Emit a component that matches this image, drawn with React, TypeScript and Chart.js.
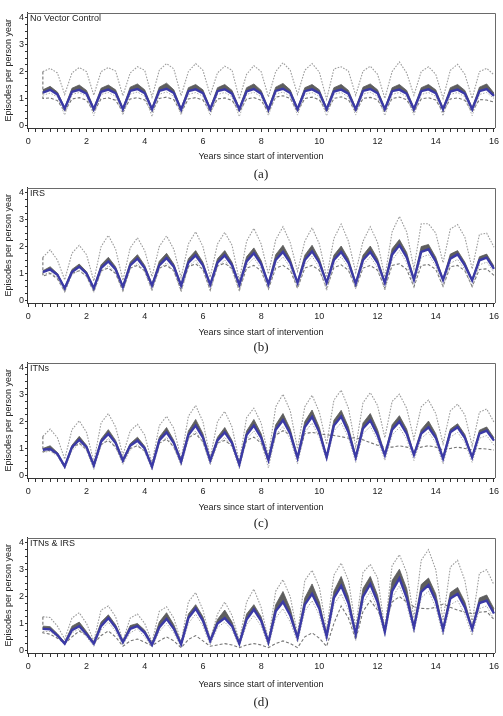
import React, { useEffect, useRef } from 'react';
import { Chart, registerables } from 'chart.js';
Chart.register(...registerables);

// Years since start of intervention (quarterly points)
const years = [0.5,0.75,1,1.25,1.5,1.75,2,2.25,2.5,2.75,3,3.25,3.5,3.75,4,4.25,4.5,4.75,5,5.25,5.5,5.75,6,6.25,6.5,6.75,7,7.25,7.5,7.75,8,8.25,8.5,8.75,9,9.25,9.5,9.75,10,10.25,10.5,10.75,11,11.25,11.5,11.75,12,12.25,12.5,12.75,13,13.25,13.5,13.75,14,14.25,14.5,14.75,15,15.25,15.5,15.75,16];
const xTickLabels = [0, 2, 4, 6, 8, 10, 12, 14, 16];
const yTickLabels = [0, 1, 2, 3, 4];
const minorStep = 0.25;

// ---- (a) No Vector Control ----
const aMedian = [1.22,1.32,1.15,0.62, 1.25,1.32,1.18,0.60, 1.25,1.33,1.20,0.60, 1.28,1.35,1.20,0.60, 1.28,1.36,1.20,0.58, 1.27,1.34,1.20,0.60, 1.27,1.34,1.18,0.60, 1.26,1.35,1.18,0.58, 1.28,1.36,1.20,0.60, 1.27,1.34,1.20,0.60, 1.26,1.33,1.18,0.60, 1.28,1.35,1.20,0.60, 1.27,1.33,1.18,0.60, 1.27,1.34,1.20,0.60, 1.26,1.33,1.18,0.60, 1.27,1.35,1.10];
const aBandHigh = [1.32,1.45,1.24,0.66, 1.38,1.50,1.30,0.65, 1.38,1.50,1.32,0.65, 1.42,1.54,1.32,0.65, 1.42,1.57,1.32,0.63, 1.40,1.52,1.32,0.65, 1.40,1.52,1.30,0.65, 1.40,1.54,1.30,0.63, 1.42,1.56,1.32,0.65, 1.40,1.52,1.32,0.65, 1.40,1.52,1.30,0.65, 1.42,1.54,1.32,0.65, 1.40,1.52,1.30,0.65, 1.40,1.52,1.32,0.65, 1.40,1.52,1.30,0.65, 1.42,1.54,1.20];
const aUpper = [2.00,2.12,1.95,1.15, 1.95,2.15,2.00,1.12, 2.00,2.15,2.02,1.10, 1.95,2.18,2.05,1.05, 2.05,2.30,2.10,1.10, 2.00,2.30,2.05,1.12, 1.95,2.20,2.05,0.98, 1.90,2.22,2.00,1.06, 2.00,2.33,2.05,1.15, 2.05,2.30,1.98,0.97, 2.10,2.18,2.02,1.12, 2.02,2.20,1.90,1.00, 2.00,2.36,1.95,1.12, 2.00,2.18,1.90,1.00, 2.05,2.27,1.90,1.00, 2.00,2.12,1.88];
const aLowerDashed = [1.00,1.02,0.92,0.52, 0.98,1.03,0.94,0.50, 0.98,1.02,0.93,0.50, 0.98,1.03,0.94,0.50, 1.00,1.05,0.95,0.48, 0.98,1.03,0.94,0.50, 0.98,1.02,0.93,0.50, 0.98,1.03,0.93,0.48, 1.05,1.10,1.00,0.50, 1.00,1.05,0.95,0.50, 1.00,1.06,0.95,0.50, 1.00,1.04,0.95,0.50, 1.00,1.05,0.95,0.50, 0.98,1.03,0.94,0.50, 0.98,1.02,0.93,0.50, 0.96,0.94,0.87];
const aDashTop = 2.0;
const aLowerDotted = [1.12,1.20,1.06,0.38, 1.15,1.22,1.08,0.36, 1.15,1.22,1.08,0.38, 1.16,1.24,1.08,0.32, 1.16,1.24,1.08,0.38, 1.15,1.22,1.08,0.37, 1.15,1.22,1.06,0.32, 1.15,1.23,1.06,0.36, 1.16,1.24,1.08,0.38, 1.15,1.22,1.08,0.35, 1.15,1.22,1.06,0.38, 1.16,1.23,1.08,0.36, 1.15,1.22,1.06,0.38, 1.15,1.22,1.08,0.35, 1.15,1.22,1.06,0.36, 1.15,1.22,1.00];

// ---- (b) IRS ----
const bMedian = [1.05,1.15,0.95,0.45, 1.05,1.25,1.00,0.45, 1.20,1.45,1.15,0.50, 1.30,1.55,1.20,0.55, 1.30,1.57,1.25,0.55, 1.40,1.67,1.30,0.58, 1.40,1.67,1.30,0.58, 1.45,1.75,1.35,0.60, 1.50,1.80,1.40,0.65, 1.50,1.82,1.40,0.65, 1.50,1.80,1.40,0.62, 1.50,1.80,1.40,0.65, 1.70,2.05,1.60,0.77, 1.80,1.90,1.45,0.76, 1.55,1.71,1.30,0.74, 1.49,1.59,1.17];
const bBandHigh = [1.10,1.25,1.00,0.48, 1.15,1.35,1.07,0.48, 1.32,1.60,1.25,0.54, 1.42,1.70,1.30,0.60, 1.45,1.75,1.35,0.60, 1.55,1.85,1.42,0.62, 1.55,1.85,1.42,0.62, 1.62,1.95,1.48,0.65, 1.70,2.05,1.55,0.70, 1.68,2.05,1.55,0.70, 1.68,2.02,1.55,0.67, 1.68,2.02,1.55,0.70, 1.92,2.26,1.78,0.82, 2.00,2.08,1.60,0.80, 1.72,1.85,1.42,0.78, 1.62,1.72,1.27];
const bUpper = [1.60,1.88,1.50,0.76, 1.75,2.05,1.70,0.72, 2.00,2.42,1.90,0.74, 1.95,2.33,1.85,0.88, 2.00,2.40,1.90,0.84, 2.10,2.55,2.00,0.86, 2.10,2.53,2.05,0.74, 2.20,2.68,2.10,0.98, 2.25,2.74,2.15,1.08, 2.20,2.70,2.10,0.86, 2.30,2.84,2.20,1.04, 2.20,2.74,2.15,0.86, 2.55,3.12,2.55,1.17, 2.85,2.85,2.50,1.40, 2.65,2.82,2.35,1.17, 2.45,2.50,1.98];
const bLowerDashed = [0.90,1.00,0.80,0.33, 1.00,1.10,0.90,0.32, 1.10,1.20,1.00,0.35, 1.20,1.30,1.10,0.40, 1.20,1.30,1.10,0.38, 1.25,1.36,1.15,0.38, 1.28,1.38,1.18,0.38, 1.20,1.30,1.10,0.42, 1.20,1.30,1.12,0.45, 1.20,1.30,1.12,0.45, 1.22,1.32,1.12,0.45, 1.20,1.30,1.12,0.45, 1.30,1.36,1.15,0.50, 1.30,1.33,1.15,0.52, 1.25,1.30,1.10,0.52, 1.15,1.17,0.93];
const bDashTop = 1.6;
const bLowerDotted = [0.95,1.05,0.85,0.30, 0.95,1.12,0.88,0.30, 1.05,1.30,1.00,0.34, 1.15,1.38,1.05,0.36, 1.15,1.40,1.08,0.30, 1.25,1.50,1.12,0.36, 1.25,1.50,1.12,0.33, 1.30,1.58,1.18,0.42, 1.32,1.62,1.22,0.45, 1.32,1.64,1.22,0.36, 1.32,1.62,1.22,0.42, 1.32,1.62,1.22,0.36, 1.50,1.85,1.40,0.50, 1.60,1.70,1.28,0.50, 1.38,1.52,1.15,0.48, 1.32,1.42,1.05];

// ---- (c) ITNs ----
const cMedian = [0.95,0.98,0.80,0.33, 1.05,1.32,1.05,0.37, 1.25,1.54,1.20,0.55, 1.10,1.29,1.00,0.32, 1.30,1.60,1.20,0.51, 1.50,1.85,1.40,0.55, 1.30,1.60,1.20,0.40, 1.50,1.85,1.40,0.57, 1.70,2.05,1.55,0.65, 1.80,2.18,1.60,0.67, 1.85,2.19,1.60,0.67, 1.75,2.04,1.50,0.75, 1.70,2.00,1.55,0.76, 1.55,1.79,1.40,0.63, 1.60,1.79,1.40,0.67, 1.55,1.66,1.29];
const cBandHigh = [1.00,1.10,0.85,0.36, 1.12,1.45,1.12,0.40, 1.35,1.70,1.30,0.60, 1.18,1.42,1.08,0.35, 1.42,1.78,1.30,0.55, 1.65,2.08,1.55,0.60, 1.42,1.78,1.30,0.44, 1.65,2.08,1.55,0.62, 1.88,2.30,1.72,0.70, 2.00,2.43,1.78,0.72, 2.05,2.42,1.80,0.72, 1.95,2.30,1.70,0.80, 1.88,2.22,1.72,0.80, 1.70,2.02,1.55,0.68, 1.72,1.92,1.52,0.70, 1.68,1.80,1.40];
const cUpper = [1.45,1.72,1.40,0.60, 1.70,2.03,1.60,0.50, 1.95,2.30,1.80,0.75, 1.65,1.90,1.50,0.45, 1.85,2.20,1.75,0.60, 2.20,2.60,2.00,0.65, 2.00,2.38,1.80,0.50, 2.15,2.50,1.95,0.70, 2.55,3.02,2.40,0.98, 2.55,2.98,2.35,1.15, 2.80,3.17,2.50,1.05, 2.70,3.08,2.60,1.40, 2.75,3.02,2.50,1.35, 2.55,2.80,2.30,1.17, 2.40,2.65,2.25,1.10, 2.35,2.47,1.98];
const cLowerDashed = [0.88,0.93,0.75,0.30, 1.00,1.20,0.95,0.33, 1.15,1.30,1.05,0.50, 1.00,1.10,0.90,0.30, 1.20,1.35,1.05,0.45, 1.40,1.55,1.25,0.50, 1.20,1.30,1.10,0.38, 1.30,1.42,1.20,0.50, 1.50,1.66,1.50,0.60, 1.55,1.60,1.55,1.50, 1.48,1.44,1.38,1.40, 1.32,1.22,1.12,1.05, 1.05,1.10,1.05,0.98, 1.05,1.10,1.05,0.95, 1.00,1.05,1.00,0.95, 1.00,0.98,0.94];
const cDashTop = 1.45;
const cLowerDotted = [0.85,0.90,0.72,0.25, 0.92,1.18,0.92,0.22, 1.10,1.38,1.05,0.40, 0.95,1.15,0.88,0.20, 1.15,1.42,1.05,0.35, 1.35,1.65,1.22,0.38, 1.15,1.42,1.05,0.25, 1.35,1.65,1.22,0.27, 1.50,1.82,1.35,0.42, 1.60,1.95,1.40,0.55, 1.65,1.95,1.40,0.48, 1.55,1.82,1.32,0.55, 1.50,1.78,1.35,0.55, 1.38,1.60,1.22,0.42, 1.42,1.60,1.22,0.48, 1.38,1.48,1.12];

// ---- (d) ITNs & IRS ----
const dMedian = [0.80,0.78,0.55,0.25, 0.75,0.90,0.60,0.25, 0.90,1.20,0.85,0.30, 0.80,0.90,0.65,0.20, 0.85,1.17,0.80,0.22, 1.20,1.55,1.10,0.35, 1.00,1.20,0.90,0.25, 1.15,1.52,1.10,0.30, 1.45,1.80,1.30,0.47, 1.70,2.10,1.55,0.52, 1.95,2.40,1.75,0.60, 2.00,2.46,1.80,0.69, 2.20,2.68,1.95,0.85, 2.18,2.43,1.85,0.77, 1.93,2.10,1.60,0.79, 1.76,1.85,1.37];
const dBandHigh = [0.90,0.88,0.62,0.30, 0.90,1.05,0.70,0.30, 1.05,1.32,0.95,0.35, 0.92,1.00,0.75,0.25, 1.05,1.40,0.95,0.27, 1.35,1.70,1.25,0.40, 1.15,1.50,1.05,0.30, 1.35,1.70,1.25,0.35, 1.70,2.19,1.55,0.52, 1.95,2.47,1.80,0.58, 2.20,2.75,2.00,0.66, 2.30,2.75,2.05,0.75, 2.60,3.02,2.30,0.92, 2.45,2.69,2.10,0.83, 2.15,2.34,1.80,0.85, 1.95,2.06,1.55];
const dUpper = [1.25,1.22,0.90,0.42, 1.20,1.40,1.00,0.35, 1.50,1.65,1.25,0.35, 1.20,1.35,1.00,0.30, 1.45,1.62,1.20,0.30, 1.80,2.15,1.50,0.40, 1.35,1.80,1.30,0.35, 1.80,2.28,1.60,0.37, 2.20,2.63,2.00,0.60, 2.60,2.98,2.35,0.75, 2.80,3.25,2.60,0.85, 2.90,3.20,2.70,0.80, 3.15,3.56,2.90,1.20, 3.35,3.75,3.00,1.10, 3.10,3.35,2.60,1.05, 2.87,3.00,2.44];
const dLowerDashed = [0.65,0.60,0.45,0.25, 0.50,0.72,0.55,0.25, 0.55,0.72,0.50,0.15, 0.35,0.42,0.30,0.17, 0.35,0.50,0.35,0.10, 0.40,0.55,0.35,0.15, 0.20,0.25,0.20,0.10, 0.20,0.25,0.20,0.10, 0.25,0.35,0.25,0.10, 0.50,0.65,0.45,0.15, 1.00,1.65,1.20,0.40, 1.45,1.85,1.50,0.90, 1.80,2.00,1.80,1.62, 1.56,1.55,1.60,1.72, 1.60,1.50,1.42,1.37, 1.42,1.44,1.15];
const dDashTop = 1.25;
const dLowerDotted = [0.70,0.70,0.50,0.20, 0.65,0.80,0.50,0.15, 0.75,1.05,0.70,0.20, 0.65,0.80,0.50,0.12, 0.70,1.00,0.65,0.12, 1.00,1.35,0.90,0.20, 0.85,1.05,0.75,0.15, 0.95,1.30,0.90,0.15, 1.20,1.55,1.05,0.30, 1.45,1.85,1.30,0.35, 1.70,2.10,1.50,0.37, 1.75,2.20,1.55,0.55, 1.95,2.40,1.70,0.65, 1.95,2.20,1.60,0.55, 1.70,1.85,1.35,0.55, 1.55,1.65,1.15];

const panels = [
  { id: 'a', label: 'No Vector Control', top: 0, caption: '(a)', captionY: 174, titlePad: 7.9,
    median: aMedian, bandHigh: aBandHigh, upper: aUpper, lowerDashed: aLowerDashed, dashTop: aDashTop, lowerDotted: aLowerDotted },
  { id: 'b', label: 'IRS', top: 175, caption: '(b)', captionY: 347, titlePad: 7.3,
    median: bMedian, bandHigh: bBandHigh, upper: bUpper, lowerDashed: bLowerDashed, dashTop: bDashTop, lowerDotted: bLowerDotted },
  { id: 'c', label: 'ITNs', top: 350, caption: '(c)', captionY: 523, titlePad: 7.3,
    median: cMedian, bandHigh: cBandHigh, upper: cUpper, lowerDashed: cLowerDashed, dashTop: cDashTop, lowerDotted: cLowerDotted },
  { id: 'd', label: 'ITNs & IRS', top: 525, caption: '(d)', captionY: 702, titlePad: 4.6,
    median: dMedian, bandHigh: dBandHigh, upper: dUpper, lowerDashed: dLowerDashed, dashTop: dDashTop, lowerDotted: dLowerDotted },
];

const W = 503;
const H = 170;
const PAD_TOP = 12.5;
const AREA_H = 115.5;
const Y_AXIS_W = 27;
const FONT = '"Liberation Sans", Arial, Helvetica, sans-serif';

const toPts = (vals: number[]) => years.map((x, i) => ({ x, y: vals[i] }));

const framePlugin = {
  id: 'frame',
  afterDatasetsDraw(chart: any, _args: any, opts: any) {
    const { ctx, chartArea: a } = chart;
    ctx.save();
    ctx.strokeStyle = '#6a6a6a';
    ctx.lineWidth = 1;
    ctx.beginPath();
    ctx.moveTo(a.left, Math.round(a.top) + 0.5);
    ctx.lineTo(Math.round(a.right) + 0.5, Math.round(a.top) + 0.5);
    ctx.lineTo(Math.round(a.right) + 0.5, a.bottom);
    ctx.stroke();
    ctx.fillStyle = '#222';
    ctx.font = '9px ' + FONT;
    ctx.textBaseline = 'middle';
    ctx.textAlign = 'left';
    ctx.fillText(opts.label, a.left + 3, a.top + 6);
    ctx.restore();
  },
};

function quarterTicks(lo: number, hi: number) {
  const out: { value: number }[] = [];
  for (let v = lo; v <= hi + 1e-9; v += minorStep) out.push({ value: Math.round(v * 100) / 100 });
  return out;
}

function Panel({ p }: { p: any }) {
  const ref = useRef<HTMLCanvasElement>(null);
  useEffect(() => {
    const dashed = [{ x: years[0], y: p.dashTop }, ...toPts(p.lowerDashed)];
    const chart = new Chart(ref.current as HTMLCanvasElement, {
      type: 'line',
      data: {
        datasets: [
          { data: toPts(p.median), borderColor: '#3b3aa6', borderWidth: 2.4, pointRadius: 0, fill: false },
          { data: toPts(p.bandHigh), borderColor: '#5a5a5a', borderWidth: 0.8, backgroundColor: '#5e5e5e', pointRadius: 0, fill: '-1' },
          { data: toPts(p.lowerDotted), borderColor: '#ababab', borderWidth: 1, borderDash: [1.5, 1.5], pointRadius: 0, fill: false },
          { data: dashed, borderColor: '#747474', borderWidth: 1.1, borderDash: [3, 2], pointRadius: 0, fill: false },
          { data: toPts(p.upper), borderColor: '#9c9c9c', borderWidth: 1.1, borderDash: [1.6, 1.4], pointRadius: 0, fill: false },
        ],
      },
      options: {
        animation: false,
        responsive: false,
        devicePixelRatio: 1,
        events: [],
        layout: { padding: { top: PAD_TOP, right: 8, bottom: 0, left: 0 }, autoPadding: false },
        plugins: {
          legend: { display: false },
          tooltip: { enabled: false },
          frame: { label: p.label },
        } as any,
        scales: {
          x: {
            type: 'linear',
            min: -0.045,
            max: 16.035,
            bounds: 'data',
            afterBuildTicks: (s: any) => { s.ticks = quarterTicks(0, 16); },
            afterFit: (s: any) => { s.height = H - PAD_TOP - AREA_H; },
            ticks: {
              autoSkip: false,
              maxRotation: 0,
              padding: 4,
              color: '#222',
              font: { family: FONT, size: 9 },
              callback: (v: any) => (xTickLabels.includes(Number(v)) ? String(v) : ''),
            },
            grid: { drawOnChartArea: false, drawTicks: true, tickLength: 4, color: '#333' },
            border: { color: '#333', width: 1 },
            title: {
              display: true,
              text: 'Years since start of intervention',
              color: '#222',
              font: { family: FONT, size: 9 },
              padding: { top: 0, bottom: p.titlePad },
            },
          },
          y: {
            type: 'linear',
            min: -0.1,
            max: 4.2,
            bounds: 'data',
            afterBuildTicks: (s: any) => { s.ticks = quarterTicks(0, 4); },
            afterFit: (s: any) => { s.width = Y_AXIS_W; },
            ticks: {
              autoSkip: false,
              padding: 1,
              color: '#222',
              font: { family: FONT, size: 9 },
              callback: (v: any) => (yTickLabels.includes(Number(v)) ? String(v) : ''),
            },
            grid: { drawOnChartArea: false, drawTicks: true, tickLength: 2, color: '#333' },
            border: { color: '#333', width: 1 },
            title: {
              display: true,
              text: 'Episodes per person year',
              color: '#222',
              font: { family: FONT, size: 9 },
              padding: { top: 3, bottom: 0 },
            },
          },
        },
      } as any,
      plugins: [framePlugin],
    });
    return () => chart.destroy();
  }, []);
  return (
    <div style={{ position: 'absolute', left: 0, top: p.top, width: W, height: H }}>
      <canvas ref={ref} width={W} height={H} style={{ display: 'block', width: W, height: H }} />
    </div>
  );
}

export default function App() {
  return (
    <div style={{ position: 'absolute', left: 0, top: 0, width: W, height: 716, background: '#fff', overflow: 'hidden' }}>
      {panels.map((p) => <Panel key={p.id} p={p} />)}
      {panels.map((p) => (
        <div
          key={'cap' + p.id}
          style={{
            position: 'absolute',
            left: 261,
            top: p.captionY - 8,
            transform: 'translateX(-50%)',
            fontFamily: '"Liberation Serif", "DejaVu Serif", serif',
            fontSize: 13,
            lineHeight: '16px',
            color: '#222',
            zIndex: 2,
          }}
        >
          {p.caption}
        </div>
      ))}
    </div>
  );
}
